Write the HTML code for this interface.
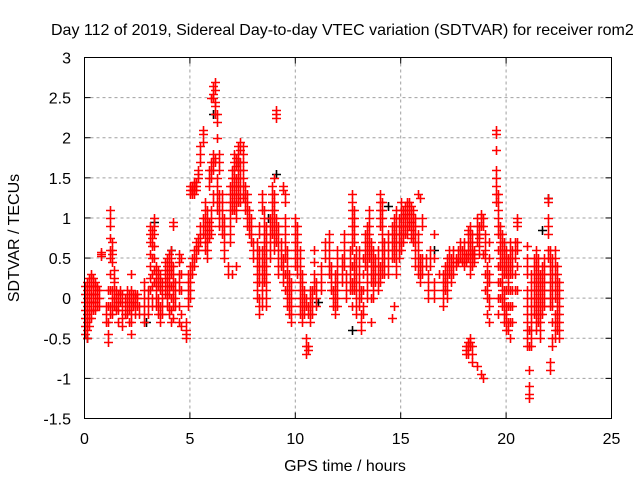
<!DOCTYPE html>
<html><head><meta charset="utf-8"><style>
html,body{margin:0;padding:0;background:#fff}
svg text{font-family:"Liberation Sans",sans-serif;font-size:16px;fill:#000}
</style></head><body>
<svg id="chart" width="640" height="480" viewBox="0 0 640 480" xmlns="http://www.w3.org/2000/svg">
<rect width="640" height="480" fill="#fff"/>
<text x="51" y="35">Day 112 of 2019, Sidereal Day-to-day VTEC variation (SDTVAR) for receiver rom2</text>
<g id="grid"></g>
<g id="axes"></g>
<g id="marks"></g>
<rect x="84.5" y="57.5" width="527" height="361" fill="none" stroke="#000" stroke-width="1"/>
<text x="345" y="471" text-anchor="middle">GPS time / hours</text>
<text transform="translate(19,238) rotate(-90)" text-anchor="middle">SDTVAR / TECUs</text>
</svg>
<script>
const xTicks=[0,5,10,15,20,25];
const yTicks=[-1.5,-1,-0.5,0,0.5,1,1.5,2,2.5,3];
const yTickLabels=["-1.5","-1","-0.5","0","0.5","1","1.5","2","2.5","3"];
const hours=[0,0.1,0.2,0.3,0.4,0.5,0.6,0.7,0.8,1.0,1.1,1.2,1.3,1.4,1.5,1.6,1.7,1.8,1.9,2.0,2.1,2.2,2.3,2.4,2.5,2.6,2.8,3.0,3.1,3.2,3.3,3.4,3.5,3.6,3.7,3.8,3.9,4.0,4.1,4.2,4.3,4.5,4.6,4.8,4.9,5.0,5.1,5.2,5.3,5.4,5.5,5.6,5.7,5.8,5.9,6.0,6.1,6.2,6.3,6.4,6.5,6.6,6.8,6.9,7.0,7.1,7.2,7.3,7.4,7.5,7.6,7.7,7.8,7.9,8.0,8.2,8.3,8.4,8.5,8.6,8.8,8.9,9.0,9.1,9.2,9.3,9.4,9.5,9.6,9.7,9.8,10.0,10.1,10.2,10.3,10.4,10.5,10.6,10.7,10.8,10.9,11.0,11.2,11.4,11.6,11.7,11.8,11.9,12.0,12.2,12.3,12.4,12.6,12.7,12.8,12.9,13.0,13.1,13.2,13.3,13.4,13.5,13.6,13.7,13.8,13.9,14.0,14.1,14.2,14.4,14.6,14.7,14.8,14.9,15.0,15.1,15.2,15.3,15.4,15.5,15.6,15.7,15.8,15.9,16.0,16.2,16.3,16.4,16.6,16.8,17.0,17.1,17.2,17.3,17.4,17.5,17.6,17.7,17.8,17.9,18.0,18.1,18.2,18.3,18.4,18.5,18.6,18.7,18.8,18.9,18.1,18.2,18.3,18.4,18.6,18.8,18.9,19.0,19.1,19.2,19.5,19.6,19.7,19.8,19.9,20.0,20.1,20.2,20.3,20.4,20.5,21.0,21.1,21.2,21.3,21.4,21.5,21.6,21.7,21.8,22.0,22.1,22.2,22.3,22.4,22.5];
const sdtvar=[
[-0.45,-0.35,-0.25,-0.15,-0.05,0.05,0.15],[-0.5,-0.4,-0.3,-0.2,-0.1,0,0.1,0.2],[-0.35,-0.25,-0.15,-0.05,0.05,0.15,0.25],[-0.25,-0.15,-0.05,0.05,0.15,0.25,0.3],[-0.15,-0.05,0.05,0.15,0.25],[-0.15,-0.05,0.05,0.15,0.2],[-0.1,0,0.1,0.15],[-0.1,0,0.1],[0.52,0.55,0.57],
[-0.1,-0.2,-0.3],[-0.55,-0.45,-0.3,-0.1,0.1],[1.1,1.0,0.9,0.75,0.6,0.5,0.3,0.1,-0.1,-0.2],[0.7,0.6,0.55,0.45,0.1,0,-0.1,-0.2],[0.35,0.25,0.2,0.1,0,-0.1],[0.1,0,-0.1,-0.15],[0.05,-0.05,-0.15,-0.3],[-0.05,0.05,0.1],[-0.15,-0.25,-0.35,-0.05,0.05],[0,-0.1,-0.2],[0.1,0,-0.1,-0.2],[0.05,-0.05,-0.15,-0.3],[0.1,0.3,0,-0.1,-0.2,-0.3,-0.45],[0.05,-0.05,-0.1],[0.05,0,-0.1,-0.2],[0.05,0,-0.1],[-0.1,-0.2],[0.2,0.1,0,-0.1,-0.2,-0.3],[0.1,0,-0.1,-0.2],
[0.9,0.8,0.7,0.55,0.4,0.25,0.1],[0.85,0.75,0.65,0.5,0.3,0.15,0,-0.1],[1.0,0.9,0.8,0.65,0.5,0.35,0.2],[0.4,0.3,0.2,0.1,0,-0.1],[0.35,0.25,0.15,0,-0.1,-0.2],[0.3,0.2,0.1,-0.1,-0.2,-0.3],[0.2,0.1,0,-0.1,-0.2],[0.45,0.35,0.25,0.15,0.05],[0.5,0.4,0.3,0.2,0.1,0,-0.1],[0.55,0.45,0.35,0.25,0.15,0.05,-0.1,-0.2],[0.6,0.5,0.4,0.3,0.15,0,-0.15,-0.3],[0.95,0.9,0.4,0.3,0.2,0.1,0,-0.1,-0.25],[0.2,0.1,0,-0.1],[0.55,0.45,0.3,0.2,0.1,-0.1,-0.3],[0.5,0.3,0.1,-0.2,-0.35],[-0.45,-0.5,-0.4,-0.3],[0.1,0.2,0.3,0,-0.1],
[0.4,0.3,0.2,0.1,0,1.3,1.35,1.4],[0.5,0.4,0.3,1.3,1.35,1.4],[0.6,0.5,0.4,1.3,1.35,1.4,1.45],[0.7,0.6,0.5,1.35,1.4,1.45],[0.75,0.65,0.6,1.5,1.55,1.6],[0.9,0.8,0.7,1.7,1.8,1.9],[1.0,0.9,0.8,1.95,2.05,2.1],[1.2,1.1,1.0,0.9,0.8,0.7,0.6],[1.1,1.0,0.9,0.8,0.7,0.6,0.5],[0.75,0.85,0.95,1.4,1.5,1.6],[0.8,0.9,1.0,1.1,1.5,1.6,1.7,2.5],[1.2,1.3,1.6,1.7,1.8,2.65,2.55,2.5],[2.7,2.6,2.45,2.4,2.3,1.75,1.7],[2.3,2.2,2.0,1.5,1.4,1.3,1.2,1.1],[1.8,1.7,1.6,1.3,1.2,1.1,1.0,0.9],[1.3,1.2,1.1,1.0,0.9,0.8],[1.0,0.9,0.8,0.7,0.6,0.5],[0.3,0.4],
[1.4,1.3,1.2,1.1,1.0,0.9,0.8,0.7],[1.6,1.5,1.4,1.3,1.2,1.1,0.3],[1.8,1.7,1.6,1.5,1.4,1.3,1.2,1.1],[1.75,1.65,1.5,1.4,1.3,1.2,1.1,1.0,0.4],[1.9,1.8,1.7,1.6,1.5,1.4,1.3,1.2],[1.95,1.85,1.7,1.6,1.5,1.4,1.3,1.2],[1.9,1.8,1.7,1.6,1.5,1.4,1.3,1.25],[1.4,1.3,1.2,1.1],[1.3,1.2,1.1,1.0,0.9],[1.1,1.0,0.9,0.8],[1.0,0.9,0.8,0.7],[0.7,0.6,0.5],
[0.7,0.6,0.5,0.4,0.3,0.2,0.1,0],[0.9,0.8,0.6,0.5,0.4,0.3,0.2,0,-0.1,-0.2],[1.3,1.2,1.1,0.6,0.5,0.4,0.3,0.2,0.1,0,-0.1],[1.1,1.0,0.9,0.8,0.7,0.6,0.5,0.4,0.3,0.2],[0.9,0.8,0.7,0.6,0.5,0.4,0.3,0.2,0.1,0,-0.1],[1.0,0.9,0.8,0.7,0.6,0.5],[1.2,1.3,1.4,1.1,1.0,0.9,0.8],[1.5,1.3,1.2,1.1,1.0,0.9,0.8,0.7,0.6],[2.35,2.3,2.25,1.0,0.9,0.8,0.7],[0.9,0.8,0.7,0.6,0.5,0.4,0.3],[0.7,0.6,0.5,0.4],[0.5,0.4,0.3,0.2,1.4,1.35],[1.3,1.2,1.0,0.9,0.8,0.7,0.6,0.5,0.3,0.1],[0.6,0.5,0.4,0.3,0.2,0.1,0,-0.1],[0.3,0.2,0.1,0,-0.1,-0.2],[0.2,0.1,0,-0.1,-0.2,-0.3],
[1.0,0.9,0.8,0.7,0.6,0.5,0.4],[0.9,0.8,0.7,0.6,0.5,0.4,0.3],[0.6,0.5,0.4,0.3,0.2,0.1,0,-0.1,-0.2],[0.3,0.2,0.1,0,-0.1,-0.2,-0.3],[0.1,0,-0.1,-0.2],[0,-0.1,-0.5,-0.6,-0.7],[-0.1,-0.2,-0.6,-0.65],[-0.1,-0.2,-0.3,0,0.1],[0.1,0,-0.1,-0.2],[0.1,0.2,0.3,0.45,0.6],[0.2,0.1,0,-0.1],[0.4,0.3,0.2,0.1],[0.7,0.6,0.5],[0.8,0.7,0.6,0.5,0.4,0.3],[0.4,0.3,0.2,0.1],[0.1,0,-0.1],[0.3,0.2,0.1,0,-0.1,-0.2],[0.6,0.5,0.4,0.3,0.2,0.1,0,-0.1],[0.5,0.4,0.3,0.2],[0.8,0.7,0.6,0.5,0.4],[0.3,0.2,0.1,0],[0.6,0.5,0.4,0.3,0.2,0.1],
[1.3,1.2,1.1,1.0,0.9,0.8,0.7,0.6,0.4,0.2,0.1,-0.1],[1.1,1.0,0.9,0.8,0.7,0.5,0.4,0.3,0.2,0.1],[0.6,0.5,0.4,0.3,0.2,0.1,0,-0.1,-0.2],[0.6,0.5,0.4,0.3,0.2,0.1,0,-0.1],[-0.4,-0.3,-0.2,0,0.1],[-0.2,-0.1,0.1,0.3,0.5],[0.8,0.7,0.6,0.5,0.4],[0.9,0.8,0.7,0.6,0.5,0.4,0.3,0.2,0.1,0],[1.1,1.0,0.9,0.8,0.7,0.6,0.5],[0.7,0.6,0.5,0.4,0.3,0.2,0,-0.3],[0.6,0.5,0.4,0.3,0.2,0.1,0],[0.5,0.4,0.3,0.2],[0.6,0.5,0.4,0.3,0.2,0.1],[0.4,0.3,0.2,0.9,1.0,1.1,1.2,1.3],[1.2,1.1,1.0,0.9,0.8,0.7,0.6,0.5,0.4,0.3],[0.7,0.6,0.5,0.4,0.3],
[0.8,0.7,0.6,0.5,0.4,0.3],[0.9,0.8,0.7,0.6,0.5,-0.25],[1.0,0.9,0.8,0.7,0.6,0.5,-0.1],[1.1,1.0,0.9,0.8,0.7,0.6,0.5,0.4,0.3],[1.0,0.9,0.8,0.7,0.6,0.5],[1.2,1.1,1.0,0.9,0.8,0.7,0.6],[1.1,1.0,0.9,0.8,0.7],[1.15,1.05,1.0,0.9,0.8],[1.2,1.1,1.0,0.9,0.8],[1.2,1.1,1.0,0.9],[1.15,1.05,0.95,0.85,0.75],[1.1,1.0,0.9,0.8,0.7],[1.0,0.9,0.8,0.7,0.6,0.5,0.4],[0.8,0.7,0.6,0.5,0.4,0.3,1.3],[0.5,0.4,0.3,0.2,1.25],[0.5,0.4,0.3,1.0,0.9],[0.5,0.4],[0.3,0.2,0.1,0],[0.4,0.5,0.6],[0.2,0.1,0,0.8,0.5],[0.3],
[0.3,0.2,0.1,0,-0.1],[0.4,0.3,0.2,0.1],[0.5,0.4,0.3,0.2,0.1,0],[0.6,0.5,0.4,0.3],[0.5,0.4,0.3,0.2],[0.6,0.5,0.4,0.3],[0.5,0.45,0.4],[0.6,0.5,0.45],[0.5,0.6,0.7],[0.6,0.5,0.45],[0.5,0.4,0.6,0.7],[0.55,0.5,0.45],[0.85,0.8,0.7,0.6,0.5],[0.9,0.8,0.7,0.6,0.5,0.4,0.3],[0.8,0.7,0.6,0.55,0.5,0.4],[0.6,0.55,0.5,0.45],[1.0,0.9,0.8,0.7],[0.9,0.8,0.75,0.65,0.55],[1.05,1.0,0.9],[1.0,0.9,0.55],
[-0.7,-0.65,-0.6],[-0.55,-0.6,-0.7],[-0.6,-0.5,-0.55],[-0.6,-0.7,-0.8],[-0.85],[-0.95],[-1.0],[0.8,0.7,0.6,0.5,0.3,0.1],[0.4,0.3,0.2,0.1,0,-0.2],[0.7,0.5,0.3,0.2,0,-0.1,-0.3],
[2.1,2.05,1.85,1.6,1.5,1.4,1.3,1.2],[1.3,1.2,1.1,1.0,0.9,0.8,0.6,0.4,0.2,0,-0.2],[0.9,0.8,0.7,0.6,0.5,0.4,0.2,0],[0.8,0.7,0.6,0.5,0.4,0.3,0.2,0.1,0,-0.1],[0.7,0.6,0.5,0.4,0.3,0.1,0,-0.1,-0.2,-0.3],[0.6,0.5,0.4,0.3,0.1,-0.1,-0.2,-0.3,-0.4],[0.5,0.4,0.3,0.2,0.1,-0.1,-0.3,-0.4],[0.7,0.6,0.5,0.4,0.3,0.1,-0.1,-0.3,-0.5],[0.6,0.5,0.4,0.3,0.1,-0.1,-0.3],[0.7,0.6,0.5,0.3,0.1],[1.0,0.95,0.9,0.7,0.6,0.4,0.1],
[0.65,0.5,0.4,0.3,0.1,0,-0.1,-0.2,-0.3,-0.4,-0.5,-0.6],[-1.1,-1.25,-1.2,-0.9,-0.6,-0.4],[0.3,0.2,0.1,0,-0.1,-0.2,-0.3,-0.4,-0.5,-0.6],[0.5,0.4,0.3,0.2,0.1,0,-0.1,-0.2],[0.6,0.5,0.4,0.3,0.2,0.1,0,-0.1,-0.2,-0.3,-0.4],[0.5,0.4,0.3,0.2,0.1,0,-0.1,-0.2,-0.3],[0.3,0.2,0.1,0,-0.1,-0.2,-0.3,-0.4,-0.5],[0.4,0.3,0.2,0.1,0,-0.1,-0.2],[0.5,0.4,0.3,0.2,0.1,0,-0.1],
[1.2,1.25,1.0,0.9,0.8,0.6,0.5],[0.6,0.5,0.4,0.3,0.2,0.1,0,-0.1,-0.8,-0.9],[0.5,0.4,0.3,0.2,0.1,0,-0.1,-0.3,-0.5,-0.6],[0.6,0.5,0.4,0.3,0.2,0.1,0,-0.2,-0.3,-0.4,-0.5],[0.4,0.3,0.2,0.1,0,-0.1,-0.2,-0.3,-0.4],[0.2,0.1,0,-0.1,-0.2,-0.3,-0.4,-0.5]];
const blackHours=[0.1,2.9,3.3,4.1,6.1,7.3,8.7,9.1,11.1,12.7,14.4,16.6,21.7,22.0];
const blackValues=[-0.5,-0.3,0.95,0.6,2.3,1.7,1.0,1.55,-0.05,-0.4,1.15,0.6,0.85,1.25];
const X0=84.5,X1=611.5,Y0=418.5,Y1=57.5;
function xs(t){return X0+(t-0)/(25-0)*(X1-X0);}
function ys(v){return Y0-(v-(-1.5))/(3-(-1.5))*(Y0-Y1);}
const NS="http://www.w3.org/2000/svg";
const grid=document.getElementById('grid'),axes=document.getElementById('axes'),marks=document.getElementById('marks');
function mk(tag,attrs,parent){const e=document.createElementNS(NS,tag);for(const k in attrs)e.setAttribute(k,attrs[k]);parent.appendChild(e);return e;}
xTicks.forEach((t,i)=>{
  const x=xs(t);
  if(i>0&&i<xTicks.length-1){const g=mk('line',{x1:x,x2:x,y1:Y1,y2:Y0,stroke:'#a0a0a0','stroke-dasharray':'3,3'},grid);
  
  }
  const tk=mk('line',{x1:x,x2:x,y1:Y0,y2:Y0-6,stroke:'#000'},axes);
  
  
  const tk2=mk('line',{x1:x,x2:x,y1:Y1,y2:Y1+6,stroke:'#000'},axes);
  
  
  const lb=mk('text',{x:x,y:444,'text-anchor':'middle'},axes);lb.textContent=String(t);
  
  
});
yTicks.forEach((v,i)=>{
  const y=ys(v);
  if(i>0&&i<yTicks.length-1){const g=mk('line',{x1:X0,x2:X1,y1:y,y2:y,stroke:'#a0a0a0','stroke-dasharray':'3,3'},grid);
  
  }
  const tk=mk('line',{x1:X0,x2:X0+6,y1:y,y2:y,stroke:'#000'},axes);
  
  
  const tk2=mk('line',{x1:X1,x2:X1-6,y1:y,y2:y,stroke:'#000'},axes);
  
  
  const lb=mk('text',{x:71,y:y+6,'text-anchor':'end'},axes);lb.textContent=yTickLabels[i];
  
  
});
function cross(t,v,col){
  const x=Math.round(xs(t))+0.5,y=Math.round(ys(v))+0.5;
  return mk('path',{d:`M${x-4.5},${y}H${x+4.5}M${x},${y-4.5}V${y+4.5}`,stroke:col,'stroke-width':1.6,fill:'none'},marks);
}
blackHours.forEach((t,i)=>{
  const p=cross(t,blackValues[i],'#000');
  
  
});
hours.forEach((t,i)=>{
  sdtvar[i].forEach(v=>{
    const p=cross(t,v,'#ff0000');
    
    
  });
});
</script>
</body></html>
